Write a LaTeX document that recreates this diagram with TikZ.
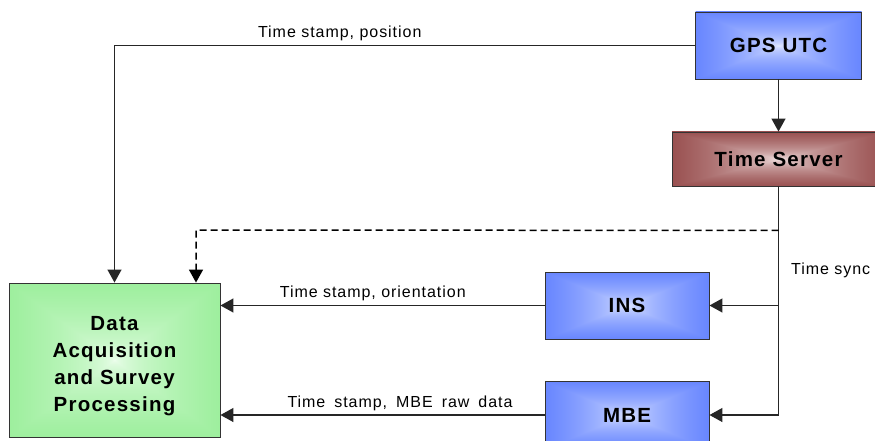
\documentclass[tikz,border=0pt]{standalone}
\usepackage{fontspec}
\usepackage{tikz}
\usetikzlibrary{arrows.meta,calc,positioning}

\newfontfamily\boxfont{Liberation Sans}[LetterSpace=6]
\newfontfamily\lblfont{Liberation Sans}[LetterSpace=6]

% rectangular gradient: centre colour #2-#4, change towards the edge #5-#7
\newcommand{\rectshade}[7]{%
  \pgfdeclarefunctionalshading{#1}{\pgfpoint{-50bp}{-50bp}}{\pgfpoint{50bp}{50bp}}{}{%
    abs exch abs 2 copy lt {exch} if pop 50 div 0.5 exp
    dup dup #5 mul #2 add 3 1 roll #6 mul #3 add exch #7 mul #4 add}}
\rectshade{blueshade}{0.93}{0.95}{1.0}{-0.74}{-0.60}{0.0}
\rectshade{redshade}{0.99}{0.96}{0.96}{-0.55}{-0.91}{-0.91}
\rectshade{greenshade}{0.95}{1.0}{0.95}{-0.47}{-0.09}{-0.47}

\begin{document}
\begin{tikzpicture}[x=1pt,y=-1pt,
    unit/.style={draw=black!80, line width=0.9pt, inner sep=0pt,
      font=\boxfont\bfseries\fontsize{20.5}{27}\selectfont},
    conn/.style={line width=1.3pt, draw=black!85, -{Triangle[length=13pt,width=14pt]}},
    lbl/.style={font=\lblfont\fontsize{16}{18}\selectfont, above, inner sep=2pt, yshift=2pt}]
    \useasboundingbox (0,0) rectangle (875,441);
    \clip (0,0) rectangle (875,441);

    % units
    \node[unit, shading=blueshade, minimum width=166pt, minimum height=67pt] (gps) at (778.5,45.5) {GPS UTC};
    \node[unit, shading=redshade, minimum width=213pt, minimum height=54pt] (ts) at (778.5,159) {Time Server};
    \node[unit, shading=blueshade, minimum width=164pt, minimum height=67pt] (ins) at (627,305.5) {INS};
    \node[unit, shading=blueshade, minimum width=164pt, minimum height=67pt] (mbe) at (627,415) {MBE};
    \node[unit, shading=greenshade, minimum width=211pt, minimum height=154pt] (data) at (114.5,360) {};
    \node[font=\boxfont\bfseries\fontsize{20.5}{27}\selectfont, align=center] (datatext) at ($(data)+(0,6)$)
      {Data\\Acquisition\\and Survey\\Processing};

    % GPS to time server and to acquisition
    \draw[conn] (gps) -- (ts);
    \draw[conn] (gps.west) -| node[lbl, pos=0.306] {Time stamp, position} (data.north);

    % time sync
    \draw[conn] (ts.south) |- (mbe.east);
    \draw[conn] (ts.south |- ins.east) -- (ins.east);
    \node[font=\lblfont\fontsize{16}{18}\selectfont, anchor=west, inner sep=0pt] (sync) at (791,270) {Time sync};
    \coordinate (tap) at ($(ts.south)+(0,44)$);
    \coordinate (drop) at (196,230);
    \draw[line width=1.5pt, dash pattern=on 7pt off 4pt, -{Triangle[length=13pt,width=14pt]}]
      (tap) -- (drop) -- (drop |- data.north);

    % sensor data
    \draw[conn] (ins.west) -- node[lbl, pos=0.53] {Time stamp, orientation} (ins.west -| data.east);
    \draw[conn] (mbe.west) -- node[lbl, pos=0.446]
      {\spaceskip=9pt\relax Time stamp, MBE raw data} (mbe.west -| data.east);
\end{tikzpicture}
\end{document}
